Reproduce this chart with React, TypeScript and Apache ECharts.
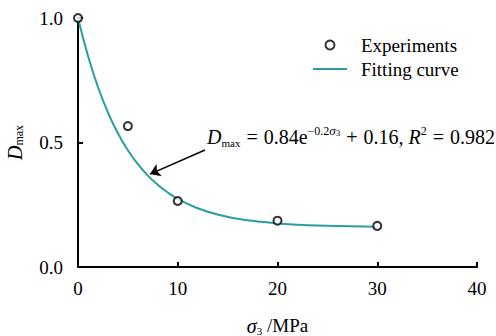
import React, { useEffect, useRef } from "react";
import * as echarts from "echarts";

const expX = [0, 5, 10, 20, 30];
const expY = [1.0, 0.566, 0.265, 0.186, 0.165];

const fitX = [0, 1, 2, 3, 4, 5, 6, 7, 8, 9, 10, 12, 14, 16, 18, 20, 23, 26, 30];
const fitY = [1.0, 0.848, 0.723, 0.621, 0.537, 0.469, 0.413, 0.367, 0.33, 0.299, 0.274, 0.236, 0.211, 0.194, 0.183, 0.175, 0.168, 0.165, 0.162];

const arrowFrom = [12.73, 0.47];
const arrowTo = [7.22, 0.373];

const seriesNames = ["Experiments", "Fitting curve"];

const FONT = "Liberation Serif";
const TEAL = "#2a9d9f";

export default function App() {
  const ref = useRef<HTMLDivElement>(null);
  useEffect(() => {
    const chart = echarts.init(ref.current!, null, { renderer: "svg" });
    const option: any = {
      animation: false,
      backgroundColor: "#ffffff",
      textStyle: { fontFamily: FONT },
      grid: { left: 78, right: 19, top: 18, bottom: 69, outerBoundsMode: "none", containLabel: false },
      legend: {
        orient: "vertical",
        left: 312,
        top: 35,
        padding: 0,
        itemWidth: 34,
        itemHeight: 9,
        itemGap: 4,
        textStyle: { fontFamily: FONT, fontSize: 19, lineHeight: 20, color: "#000", padding: [0, 0, 0, 9] },
        data: [
          { name: seriesNames[0], icon: "emptyCircle" },
          { name: seriesNames[1], itemStyle: { opacity: 0 } },
        ],
      },
      xAxis: {
        type: "value",
        min: 0,
        max: 40,
        interval: 10,
        splitLine: { show: false },
        axisLine: { lineStyle: { color: "#000", width: 2 } },
        axisTick: { inside: true, length: 5, lineStyle: { color: "#000", width: 2 } },
        axisLabel: { color: "#000", fontSize: 19, fontFamily: FONT, margin: 12 },
        name: "{s|σ}{sub|3}{n| /MPa}",
        nameLocation: "middle",
        nameGap: 48,
        nameTextStyle: {
          rich: {
            s: { fontFamily: FONT, fontSize: 20, fontStyle: "italic", color: "#000" },
            sub: { fontFamily: FONT, fontSize: 11, color: "#000", padding: [10, 0, 0, 0] },
            n: { fontFamily: FONT, fontSize: 19, color: "#000" },
          },
        },
      },
      yAxis: {
        type: "value",
        min: 0,
        max: 1,
        interval: 0.5,
        splitLine: { show: false },
        axisLine: { show: true, lineStyle: { color: "#000", width: 2 } },
        axisTick: { show: true, inside: true, length: 5, lineStyle: { color: "#000", width: 2 } },
        axisLabel: {
          color: "#000",
          fontSize: 19,
          fontFamily: FONT,
          margin: 15,
          formatter: (v: number) => v.toFixed(1),
        },
        name: "{d|D}{sub|max}",
        nameLocation: "middle",
        nameRotate: 90,
        nameGap: 53,
        nameTextStyle: {
          rich: {
            d: { fontFamily: FONT, fontSize: 20, fontStyle: "italic", color: "#000" },
            sub: { fontFamily: FONT, fontSize: 12, color: "#000", padding: [8, 0, 0, 0] },
          },
        },
      },
      series: [
        {
          name: seriesNames[1],
          type: "line",
          data: fitX.map((x, i) => [x, fitY[i]]),
          smooth: true,
          showSymbol: false,
          symbol: "none",
          lineStyle: { color: TEAL, width: 2 },
          itemStyle: { color: TEAL },
          z: 2,
          markLine: {
            silent: true,
            symbol: ["none", "arrow"],
            symbolSize: 10,
            label: { show: false },
            lineStyle: { color: "#000", width: 1.6, type: "solid" },
            data: [[{ coord: arrowFrom }, { coord: arrowTo }]],
          },
        },
        {
          name: seriesNames[0],
          type: "scatter",
          data: expX.map((x, i) => [x, expY[i]]),
          symbol: "emptyCircle",
          symbolSize: 8,
          itemStyle: { color: "#000", borderColor: "#000", borderWidth: 2 },
          z: 3,
        },
      ],
      graphic: [
        {
          type: "text",
          left: 207,
          top: 124,
          style: {
            text: "{d|D}{sub|max}{op| = }{n|0.84e}{sup|−0.2}{supi|σ}{supsub|3}{op| + }{n|0.16, }{d|R}{sup2|2}{op| = }{n|0.982}",
            rich: {
              d: { fontFamily: FONT, fontSize: 20, fontStyle: "italic", fill: "#000" },
              n: { fontFamily: FONT, fontSize: 20, fill: "#000" },
              op: { fontFamily: FONT, fontSize: 20, fill: "#000", padding: [0, 1, 0, 1] },
              sub: { fontFamily: FONT, fontSize: 11, fill: "#000", padding: [12, 0, 0, 0] },
              sup: { fontFamily: FONT, fontSize: 12, fill: "#000", padding: [0, 0, 13, 0] },
              supi: { fontFamily: FONT, fontSize: 13, fontStyle: "italic", fill: "#000", padding: [0, 0, 13, 0] },
              supsub: { fontFamily: FONT, fontSize: 9, fill: "#000", padding: [0, 0, 8, 0] },
              sup2: { fontFamily: FONT, fontSize: 12, fill: "#000", padding: [0, 0, 13, 0] },
            },
          },
        },
      ],
    };
    chart.setOption(option);
    return () => chart.dispose();
  }, []);
  return <div ref={ref} style={{ width: 496, height: 336, position: "fixed", left: 0, top: 0 }} />;
}
